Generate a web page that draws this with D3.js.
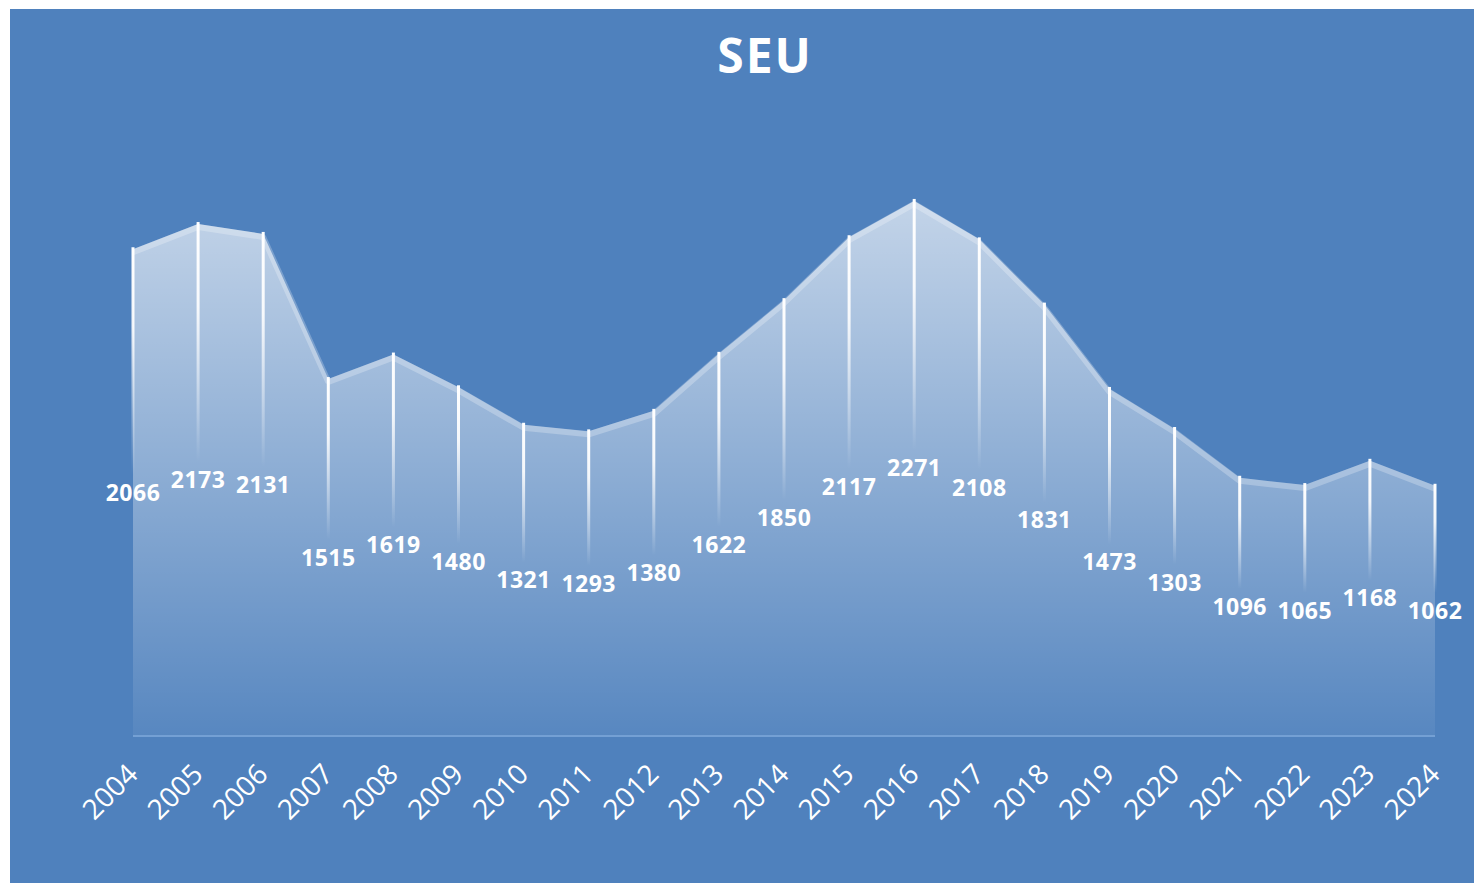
<!DOCTYPE html>
<html>
<head>
<meta charset="utf-8">
<script src="https://cdn.jsdelivr.net/npm/d3@7"></script>
<style>
  body { margin: 0; background: #fff; }
  #chart svg { display: block; }
</style>
</head>
<body>
<div id="chart"></div>
<script>
var width = 1474;
var height = 883;

var title = "SEU";
var years = ["2004","2005","2006","2007","2008","2009","2010","2011","2012","2013","2014",
             "2015","2016","2017","2018","2019","2020","2021","2022","2023","2024"];
var counts = [2066, 2173, 2131, 1515, 1619, 1480, 1321, 1293, 1380, 1622, 1850,
              2117, 2271, 2108, 1831, 1473, 1303, 1096, 1065, 1168, 1062];
var yDomain = [0, 2500];

var data = years.map(function(y, i){ return {year: y, value: counts[i]}; });

var svg = d3.select("#chart").append("svg")
  .attr("width", width)
  .attr("height", height);

var defs = svg.append("defs");

// background panel
svg.append("rect")
  .attr("x", 10).attr("y", 9)
  .attr("width", width - 10).attr("height", height - 9)
  .attr("fill", "#4f81bd");

var x = d3.scalePoint().domain(years).range([133, 1435]);
var y = d3.scaleLinear().domain(yDomain).range([736, 147]);

// area fill gradient, light at the top and fading into the panel
var areaGrad = defs.append("linearGradient")
  .attr("id", "areaGrad")
  .attr("gradientUnits", "userSpaceOnUse")
  .attr("x1", 0).attr("x2", 0)
  .attr("y1", y(d3.max(counts))).attr("y2", y(0));
areaGrad.append("stop").attr("offset", "0%").attr("stop-color", "#fff").attr("stop-opacity", 0.66);
areaGrad.append("stop").attr("offset", "100%").attr("stop-color", "#fff").attr("stop-opacity", 0.05);

var dropGrad = defs.append("linearGradient")
  .attr("id", "dropGrad")
  .attr("x1", 0).attr("x2", 0).attr("y1", 0).attr("y2", 1);
dropGrad.append("stop").attr("offset", "0%").attr("stop-color", "#fff").attr("stop-opacity", 1);
dropGrad.append("stop").attr("offset", "35%").attr("stop-color", "#fff").attr("stop-opacity", 0.9);
dropGrad.append("stop").attr("offset", "100%").attr("stop-color", "#fff").attr("stop-opacity", 0);

var area = d3.area()
  .x(function(d){ return x(d.year); })
  .y0(y(0))
  .y1(function(d){ return y(d.value); });

svg.append("path")
  .datum(data)
  .attr("d", area)
  .attr("fill", "url(#areaGrad)");

// soft highlight band under the top edge
var edge = d3.line()
  .x(function(d){ return x(d.year); })
  .y(function(d){ return y(d.value) + 3; });

svg.append("path")
  .datum(data)
  .attr("d", edge)
  .attr("fill", "none")
  .attr("stroke", "#fff")
  .attr("stroke-opacity", 0.25)
  .attr("stroke-width", 6)
  .attr("stroke-linejoin", "bevel");

// baseline
svg.append("line")
  .attr("x1", x(years[0])).attr("x2", x(years[years.length-1]))
  .attr("y1", y(0)).attr("y2", y(0))
  .attr("stroke", "#74a0d4")
  .attr("stroke-width", 2);

// drop lines from each point down towards its label
svg.selectAll("rect.drop")
  .data(data)
  .enter()
  .append("rect")
  .attr("class", "drop")
  .attr("x", function(d){ return x(d.year) - 1.5; })
  .attr("y", function(d){ return y(d.value) - 2; })
  .attr("width", 3)
  .attr("height", function(d){ return (y(0) - y(d.value)) / 2 - 16; })
  .attr("fill", "url(#dropGrad)");

// value labels, sitting halfway down the area
svg.selectAll("text.val")
  .data(data)
  .enter()
  .append("text")
  .attr("class", "val")
  .attr("x", function(d){ return x(d.year); })
  .attr("y", function(d){ return y(d.value / 2) + 8; })
  .attr("text-anchor", "middle")
  .attr("font-family", "'Open Sans', sans-serif")
  .attr("font-weight", "bold")
  .attr("font-size", "23px")
  .attr("letter-spacing", "0.5px")
  .attr("fill", "#fff")
  .text(function(d){ return d.value; });

// x axis labels, rotated
var xAxis = d3.axisBottom(x).tickSize(0).tickPadding(0);
var gx = svg.append("g")
  .call(xAxis);
gx.select(".domain").remove();
gx.selectAll(".tick text")
  .attr("transform", "translate(6,776) rotate(-45)")
  .attr("x", 0).attr("y", 0).attr("dy", 0)
  .attr("text-anchor", "end")
  .attr("font-family", "'Open Sans', sans-serif")
  .attr("font-size", "28px")
  .attr("fill", "#fff");

// title
svg.append("text")
  .attr("x", 765)
  .attr("y", 73)
  .attr("text-anchor", "middle")
  .attr("font-family", "'Open Sans', sans-serif")
  .attr("font-weight", "bold")
  .attr("font-size", "48px")
  .attr("letter-spacing", "2px")
  .attr("fill", "#fff")
  .text(title);
</script>
</body>
</html>
